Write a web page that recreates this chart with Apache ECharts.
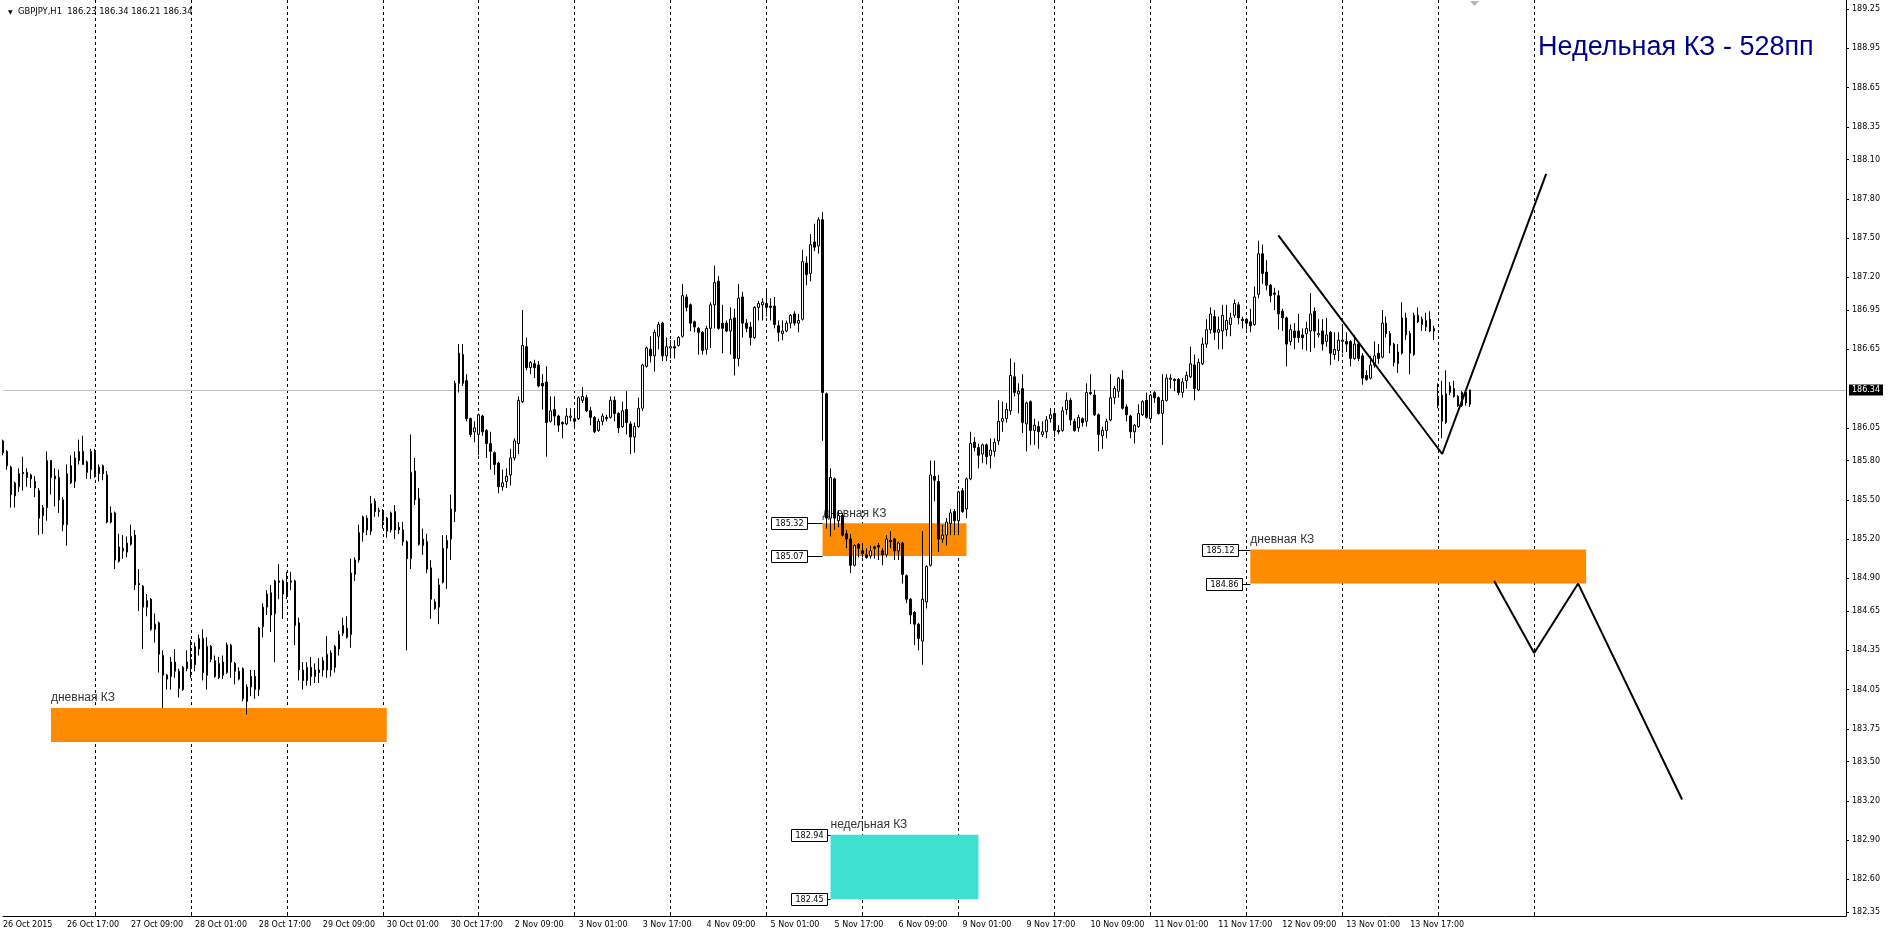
<!DOCTYPE html>
<html>
<head>
<meta charset="utf-8">
<title>GBPJPY,H1</title>
<script src="https://cdn.jsdelivr.net/npm/echarts@6/dist/echarts.min.js"></script>
<style>
html, body { margin: 0; padding: 0; background: #fff; }
#chart { width: 1888px; height: 935px; }
</style>
</head>
<body>
<div id="chart"></div>
<script>
// trading days of the H1 chart, the last ones are the empty space on the right (chart shift)
var days = ['26 Oct', '27 Oct', '28 Oct', '29 Oct', '30 Oct', '2 Nov', '3 Nov', '4 Nov', '5 Nov', '6 Nov',
    '9 Nov', '10 Nov', '11 Nov', '12 Nov', '13 Nov', '16 Nov', '17 Nov', '18 Nov', '19 Nov', '20 Nov'];
var firstLabel = '26 Oct 2015';
var header = 'GBPJPY,H1  186.23 186.34 186.21 186.34';
var title = 'Недельная КЗ - 528пп';
var lastPrice = 186.34;
var priceTicks = [189.25, 188.95, 188.65, 188.35, 188.10, 187.80, 187.50, 187.20, 186.95, 186.65, 186.05, 185.80,
    185.50, 185.20, 184.90, 184.65, 184.35, 184.05, 183.75, 183.50, 183.20, 182.90, 182.60, 182.35];

// hourly bars [open, close, low, high], first one is 26 Oct 01:00
var oct26 = [[185.95,185.86,185.84,185.96],[185.87,185.76,185.73,185.88],[185.75,185.54,185.44,185.76],[185.53,185.63,185.44,185.64],
    [185.6,185.7,185.56,185.74],[185.71,185.7,185.57,185.83],[185.71,185.67,185.6,185.74],[185.69,185.66,185.59,185.7],
    [185.64,185.59,185.52,185.68],[185.57,185.36,185.23,185.59],[185.38,185.44,185.24,185.46],[185.44,185.8,185.34,185.87],
    [185.8,185.67,185.54,185.8],[185.68,185.66,185.45,185.74],[185.67,185.5,185.4,185.73],[185.5,185.31,185.26,185.52],
    [185.31,185.7,185.15,185.77],[185.76,185.63,185.62,185.84],[185.64,185.82,185.59,185.87],[185.8,185.87,185.77,185.96],
    [185.87,185.77,185.77,185.99],[185.79,185.71,185.66,185.8],[185.73,185.87,185.66,185.89]];
var oct27 = [[185.87,185.69,185.67,185.89],[185.7,185.75,185.64,185.77],[185.76,185.7,185.65,185.77],[185.69,185.33,185.32,185.72],
    [185.33,185.4,185.32,185.45],[185.4,185.04,184.97,185.41],[185.03,185.14,185.02,185.24],[185.13,185.11,185.05,185.23],
    [185.1,185.17,185.06,185.22],[185.16,185.22,185.15,185.31],[185.23,184.85,184.81,185.27],[184.86,184.85,184.65,184.97],
    [184.84,184.68,184.36,184.85],[184.68,184.73,184.61,184.78],[184.74,184.51,184.5,184.75],[184.51,184.55,184.41,184.63],
    [184.56,184.32,184.18,184.57],[184.31,184.16,183.91,184.35],[184.16,184.13,184.05,184.17],[184.15,184.26,184.05,184.3],
    [184.26,184.19,184.14,184.36],[184.19,184.06,183.99,184.21],[184.05,184.22,184.04,184.23],[184.21,184.26,184.19,184.35]];
var oct28 = [[184.28,184.22,184.14,184.43],[184.24,184.38,184.19,184.41],[184.36,184.44,184.31,184.47],[184.44,184.18,184.12,184.51],
    [184.38,184.16,184.05,184.45],[184.38,184.28,184.26,184.39],[184.27,184.15,184.14,184.31],[184.14,184.25,184.13,184.3],
    [184.26,184.16,184.13,184.31],[184.18,184.39,184.17,184.41],[184.39,184.26,184.14,184.4],[184.25,184.19,184.09,184.26],
    [184.13,184.19,184.12,184.22],[184.21,183.98,183.96,184.22],[183.96,184.07,183.86,184.09],[184.07,184.15,184.0,184.2],
    [184.15,184.05,183.98,184.2],[184.05,184.52,184.0,184.53],[184.53,184.68,184.45,184.71],[184.68,184.78,184.62,184.81],
    [184.79,184.62,184.49,184.85],[184.63,184.88,184.26,184.89],[184.88,184.87,184.74,185.01],[184.88,184.78,184.59,184.89]];
var oct29 = [[184.78,184.85,184.74,184.95],[184.87,184.88,184.81,184.95],[184.88,184.54,184.39,184.89],[184.56,184.2,184.12,184.6],
    [184.2,184.12,184.05,184.26],[184.12,184.22,184.08,184.26],[184.22,184.15,184.08,184.3],[184.15,184.2,184.1,184.25],
    [184.2,184.18,184.1,184.29],[184.2,184.27,184.15,184.3],[184.2,184.32,184.14,184.46],[184.33,184.2,184.15,184.35],
    [184.22,184.38,184.18,184.39],[184.36,184.47,184.31,184.5],[184.48,184.54,184.46,184.6],[184.52,184.45,184.44,184.61],
    [184.47,184.94,184.37,185.05],[184.93,185.04,184.88,185.06],[185.04,185.25,185.02,185.31],[185.25,185.37,185.18,185.38],
    [185.36,185.27,185.23,185.38],[185.26,185.47,185.23,185.53],[185.49,185.41,185.37,185.51],[185.41,185.42,185.37,185.44]];
var oct30 = [[185.41,185.34,185.28,185.43],[185.36,185.26,185.21,185.37],[185.27,185.4,185.25,185.41],[185.41,185.27,185.2,185.46],
    [185.29,185.27,185.24,185.33],[185.27,185.18,185.15,185.33],[185.18,185.05,184.35,185.19],[185.05,185.71,184.97,186.0],
    [185.72,185.5,185.46,185.82],[185.51,185.16,185.15,185.59],[185.15,185.2,185.08,185.28],[185.18,184.97,184.94,185.24],
    [184.98,184.74,184.59,185.04],[184.72,184.67,184.66,184.74],[184.68,184.85,184.55,184.9],[184.87,185.13,184.86,185.23],
    [185.13,185.19,184.82,185.23],[185.2,185.43,185.04,185.54],[185.41,186.39,185.33,186.41],[186.39,186.62,186.32,186.69],
    [186.61,186.39,186.37,186.69],[186.41,186.12,186.1,186.46],[186.12,186.0,185.98,186.13],[186.02,186.05,185.94,186.1]];
var nov2 = [[186.0,186.15,185.84,186.16],[186.14,186.02,185.99,186.15],[186.03,185.93,185.82,186.04],[185.93,185.87,185.73,186.02],
    [185.86,185.77,185.69,185.87],[185.78,185.6,185.55,185.79],[185.6,185.63,185.57,185.73],[185.64,185.68,185.59,185.74],
    [185.69,185.82,185.61,185.89],[185.82,185.95,185.8,185.97],[185.93,186.26,185.85,186.29],[186.25,186.68,186.24,186.95],
    [186.67,186.51,186.49,186.74],[186.51,186.55,186.46,186.56],[186.54,186.51,186.43,186.57],[186.53,186.37,186.36,186.56],
    [186.39,186.37,186.19,186.46],[186.4,186.09,185.83,186.52],[186.1,186.18,186.09,186.29],[186.19,186.14,186.07,186.29],
    [186.14,186.07,186.02,186.15],[186.09,186.08,185.97,186.1],[186.08,186.14,186.07,186.2],[186.13,186.14,186.1,186.2]];
var nov3 = [[186.12,186.1,186.05,186.2],[186.12,186.28,186.11,186.29],[186.26,186.29,186.24,186.36],[186.28,186.18,186.17,186.3],
    [186.18,186.13,186.07,186.21],[186.13,186.02,186.01,186.14],[186.03,186.1,186.02,186.12],[186.1,186.14,186.07,186.16],
    [186.13,186.12,186.1,186.15],[186.13,186.26,186.12,186.29],[186.26,186.16,186.1,186.29],[186.16,186.05,186.01,186.17],
    [186.06,186.18,186.05,186.25],[186.19,186.09,186.0,186.33],[186.08,185.98,185.85,186.1],[185.98,186.06,185.86,186.09],
    [186.06,186.2,186.05,186.28],[186.2,186.53,186.18,186.54],[186.52,186.66,186.51,186.67],[186.65,186.6,186.55,186.75],
    [186.6,186.78,186.48,186.8],[186.75,186.84,186.65,186.86],[186.85,186.6,186.56,186.86],[186.6,186.67,186.56,186.74]];
var nov4 = [[186.66,186.67,186.58,186.72],[186.67,186.66,186.58,186.72],[186.68,186.74,186.67,186.75],[186.75,187.06,186.74,187.15],
    [187.05,186.97,186.94,187.07],[186.99,186.85,186.79,187.0],[186.86,186.82,186.78,186.87],[186.81,186.78,186.61,186.82],
    [186.78,186.64,186.61,186.79],[186.65,186.81,186.61,186.83],[186.81,186.99,186.66,187.01],[186.99,187.16,186.81,187.29],
    [187.17,186.81,186.8,187.21],[186.85,186.81,186.62,186.99],[186.85,186.79,186.78,186.87],[186.79,186.88,186.61,186.97],
    [186.89,186.58,186.45,186.96],[186.58,187.04,186.52,187.15],[187.05,186.85,186.74,187.09],[186.85,186.81,186.78,186.88],
    [186.82,186.74,186.68,186.86],[186.74,186.97,186.73,186.98],[186.97,187.0,186.87,187.02],[186.99,187.01,186.87,187.04]];
var nov5 = [[187.0,186.97,186.9,187.1],[186.98,186.97,186.87,187.04],[186.98,186.84,186.81,187.05],[186.83,186.78,186.71,186.87],
    [186.77,186.79,186.72,186.87],[186.79,186.85,186.78,186.87],[186.85,186.91,186.81,186.92],[186.92,186.85,186.83,186.94],
    [186.85,186.87,186.78,186.92],[186.88,187.32,186.87,187.41],[187.31,187.22,187.14,187.36],[187.23,187.45,187.17,187.53],
    [187.47,187.43,187.4,187.61],[187.44,187.64,187.38,187.66],[187.64,186.32,185.95,187.7],[186.31,185.36,185.28,186.32],
    [185.36,185.67,185.22,185.74],[185.66,185.36,185.27,185.67],[185.34,185.38,185.29,185.42],[185.38,185.23,185.22,185.4],
    [185.24,185.2,185.13,185.27],[185.2,185.0,184.94,185.24],[185.0,185.15,184.99,185.16],[185.16,185.13,185.06,185.17]];
var nov6 = [[185.11,185.09,185.06,185.17],[185.08,185.06,185.05,185.13],[185.07,185.11,185.05,185.15],[185.14,185.13,185.05,185.15],
    [185.15,185.14,185.04,185.17],[185.11,185.08,185.0,185.13],[185.08,185.2,185.06,185.23],[185.19,185.18,185.13,185.26],
    [185.2,185.11,185.04,185.21],[185.11,185.17,185.04,185.18],[185.17,184.93,184.86,185.18],[184.92,184.74,184.71,184.93],
    [184.74,184.62,184.55,184.75],[184.64,184.55,184.39,184.65],[184.55,184.44,184.35,184.56],[184.42,184.74,184.24,185.26],
    [184.72,184.99,184.67,185.0],[185.0,185.69,184.99,185.8],[185.68,185.65,185.49,185.8],[185.64,185.2,185.1,185.69],
    [185.2,185.23,185.17,185.31],[185.23,185.33,185.15,185.36],[185.32,185.4,185.23,185.43],[185.41,185.34,185.23,185.43]];
var nov9 = [[185.34,185.56,185.23,185.57],[185.57,185.41,185.4,185.59],[185.43,185.66,185.36,185.67],[185.66,185.93,185.65,186.02],
    [185.94,185.9,185.87,185.98],[185.9,185.84,185.74,185.93],[185.85,185.92,185.78,185.93],[185.92,185.83,185.77,185.93],
    [185.84,185.88,185.74,185.97],[185.87,185.94,185.83,185.97],[185.95,186.1,185.92,186.26],[186.1,186.12,186.02,186.25],
    [186.12,186.19,186.09,186.24],[186.18,186.45,186.15,186.58],[186.44,186.32,186.29,186.55],[186.31,186.33,186.16,186.39],
    [186.35,186.09,186.01,186.46],[186.08,186.24,185.87,186.25],[186.25,186.03,185.92,186.26],[186.03,186.07,185.92,186.12],
    [186.06,186.02,185.89,186.1],[186.0,186.02,185.98,186.1],[186.02,186.11,185.97,186.14],[186.12,186.15,186.09,186.2]];
var nov10 = [[186.16,186.03,185.98,186.18],[186.03,186.02,186.0,186.07],[186.03,186.18,186.02,186.21],[186.19,186.26,186.15,186.32],
    [186.26,186.11,186.07,186.28],[186.1,186.03,186.02,186.12],[186.05,186.13,186.02,186.15],[186.12,186.09,186.06,186.13],
    [186.1,186.32,186.06,186.39],[186.32,186.31,186.3,186.46],[186.3,186.15,186.14,186.34],[186.15,186.0,185.87,186.16],
    [185.99,186.03,185.89,186.06],[186.03,186.1,185.97,186.12],[186.11,186.28,186.1,186.46],[186.28,186.35,186.23,186.37],
    [186.33,186.43,186.28,186.44],[186.42,186.2,186.19,186.49],[186.21,186.15,186.1,186.23],[186.14,186.02,185.97,186.15],
    [186.02,186.07,185.93,186.08],[186.06,186.16,186.05,186.23],[186.15,186.25,186.14,186.26],[186.26,186.13,186.12,186.32]];
var nov11 = [[186.12,186.3,186.11,186.31],[186.32,186.28,186.24,186.33],[186.28,186.16,186.15,186.29],[186.16,186.26,185.92,186.46],
    [186.26,186.43,186.25,186.46],[186.42,186.43,186.35,186.46],[186.42,186.41,186.33,186.43],[186.42,186.32,186.3,186.43],
    [186.32,186.4,186.28,186.43],[186.41,186.45,186.35,186.48],[186.44,186.54,186.43,186.67],[186.53,186.35,186.26,186.61],
    [186.34,186.55,186.33,186.58],[186.54,186.69,186.53,186.74],[186.69,186.8,186.66,186.88],[186.8,186.92,186.77,186.97],
    [186.9,186.78,186.72,186.95],[186.78,186.8,186.65,186.9],[186.79,186.91,186.65,186.99],[186.8,186.87,186.75,186.99],
    [186.84,186.89,186.75,186.93],[186.91,187.0,186.89,187.03],[186.99,186.89,186.84,187.01],[186.88,186.87,186.81,186.9]];
var nov12 = [[186.88,186.85,186.8,186.89],[186.86,186.83,186.78,186.96],[186.84,187.05,186.83,187.13],[187.07,187.38,187.04,187.48],
    [187.38,187.23,187.15,187.45],[187.24,187.14,187.1,187.33],[187.14,187.06,187.01,187.15],[187.08,187.07,186.95,187.12],
    [187.06,186.92,186.8,187.1],[186.94,186.89,186.79,186.96],[186.89,186.69,186.52,186.9],[186.71,186.8,186.68,186.84],
    [186.79,186.74,186.65,186.85],[186.79,186.74,186.7,186.92],[186.76,186.74,186.65,186.81],[186.77,186.81,186.64,186.86],
    [186.79,186.92,186.63,187.08],[186.94,186.79,186.66,186.97],[186.76,186.77,186.74,186.88],[186.79,186.69,186.64,186.88],
    [186.71,186.76,186.67,186.89],[186.78,186.62,186.53,186.79],[186.61,186.65,186.57,186.78],[186.64,186.72,186.56,186.78]];
var nov13 = [[186.71,186.72,186.62,186.83],[186.71,186.69,186.63,186.78],[186.71,186.58,186.52,186.72],[186.58,186.69,186.57,186.76],
    [186.69,186.58,186.56,186.7],[186.6,186.43,186.38,186.62],[186.45,186.42,186.41,186.49],[186.43,186.53,186.42,186.6],
    [186.53,186.6,186.51,186.71],[186.62,186.58,186.54,186.69],[186.59,186.85,186.58,186.95],[186.85,186.77,186.74,186.9],
    [186.77,186.68,186.62,186.79],[186.69,186.55,186.52,186.7],[186.54,186.63,186.47,186.69],[186.62,186.89,186.61,187.01],
    [186.89,186.76,186.72,186.93],[186.77,186.62,186.46,186.79],[186.61,186.91,186.6,186.93],[186.91,186.86,186.85,186.97],
    [186.84,186.88,186.79,186.9],[186.82,186.87,186.79,186.93],[186.88,186.79,186.78,186.94],[186.79,186.81,186.72,186.83]];
var nov16 = [[186.22,186.29,186.2,186.39],[186.3,186.1,185.97,186.41],[186.09,186.31,186.08,186.49],[186.32,186.37,186.3,186.4],
    [186.35,186.29,186.28,186.41],[186.29,186.22,186.21,186.3],[186.22,186.32,186.21,186.33],[186.32,186.24,186.22,186.33],
    [186.23,186.34,186.21,186.34]];

// drawn objects
var zones = [
    {name: 'дневная КЗ', from: '26 Oct 13:00', to: '30 Oct 01:00', top: 183.91, bottom: 183.65, color: '#ff8c00'},
    {name: 'дневная КЗ', from: '5 Nov 14:00', to: '9 Nov 02:00', top: 185.32, bottom: 185.07, color: '#ff8c00'},
    {name: 'дневная КЗ', from: '12 Nov 01:00', to: '17 Nov 13:00', top: 185.12, bottom: 184.86, color: '#ff8c00'},
    {name: 'недельная КЗ', from: '5 Nov 16:00', to: '9 Nov 05:00', top: 182.94, bottom: 182.45, color: '#40e0d0'}
];
// [box end time, price, line end time]
var priceLabels = [
    ['5 Nov 10:00', 185.32, '5 Nov 14:00'], ['5 Nov 10:00', 185.07, '5 Nov 14:00'],
    ['11 Nov 22:00', 185.12, '12 Nov 01:00'], ['11 Nov 23:00', 184.86, '12 Nov 01:00'],
    ['5 Nov 15:00', 182.94, '5 Nov 16:00'], ['5 Nov 15:00', 182.45, '5 Nov 16:00']
];
var trendUp = [['12 Nov 08:00', 187.52], ['16 Nov 01:00', 185.85], ['17 Nov 03:00', 187.99]];
var trendDown = [['16 Nov 14:00', 184.88], ['17 Nov 00:00', 184.33], ['17 Nov 11:00', 184.86], ['18 Nov 13:00', 183.21]];

var times = [];
days.forEach(function (d) {
    for (var h = 0; h < 24; h++) times.push(d + ' ' + (h < 10 ? '0' + h : h) + ':00');
});
times = times.slice(1, 463);
var candles = [].concat(oct26, oct27, oct28, oct29, oct30, nov2, nov3, nov4, nov5, nov6,
    nov9, nov10, nov11, nov12, nov13, nov16);

var axisFont = {fontFamily: 'DejaVu Sans', fontSize: 8, color: '#000'};

var chart = echarts.init(document.getElementById('chart'));
chart.setOption({
    animation: false,
    backgroundColor: '#fff',
    title: [{
        text: title, left: 1533, top: 29,
        textStyle: {color: '#00008b', fontSize: 27, fontWeight: 'normal', fontFamily: 'Liberation Sans'}
    }, {
        text: '{t|▼}  ' + header, left: 3, top: 3,
        textStyle: {color: '#000', fontSize: 8.4, fontWeight: 'normal', fontFamily: 'DejaVu Sans',
            rich: {t: {fontSize: 6, fontFamily: 'DejaVu Sans', color: '#000'}}}
    }],
    // chart shift marker
    graphic: [{
        type: 'polygon', silent: true,
        shape: {points: [[1470, 1], [1479, 1], [1474.5, 6]]},
        style: {fill: '#b4b4b4'}
    }],
    grid: {left: 1, right: 42, top: 0, bottom: 19},
    xAxis: {
        type: 'category',
        data: times,
        boundaryGap: false,
        axisLine: {onZero: false, lineStyle: {color: '#000', width: 1}},
        axisTick: {
            inside: true, length: 4, lineStyle: {color: '#000'},
            interval: function (i) { return (i + 1) % 24 === 0 && i < 384; }
        },
        axisLabel: Object.assign({
            align: 'left', margin: 5,
            interval: function (i) { return i === 0 || (i % 16 === 0 && i < candles.length); },
            formatter: function (v, i) { return i === 0 ? firstLabel : v; }
        }, axisFont),
        splitLine: {
            show: true,
            interval: function (i) { return (i + 1) % 24 === 0 && i < 384; },
            lineStyle: {color: '#000', width: 1, type: [3, 3]}
        }
    },
    yAxis: {
        type: 'value',
        position: 'right',
        min: 182.32,
        max: 189.319,
        axisLine: {show: true, lineStyle: {color: '#000', width: 1}},
        axisTick: {show: true, length: 3, customValues: priceTicks, lineStyle: {color: '#000'}},
        axisLabel: Object.assign({
            margin: 6, customValues: priceTicks,
            formatter: function (v) { return v.toFixed(2); }
        }, axisFont),
        splitLine: {show: false}
    },
    series: [{
        type: 'candlestick',
        data: candles,
        barWidth: 2,
        clip: false,
        itemStyle: {color: '#fff', color0: '#000', borderColor: '#000', borderColor0: '#000', borderWidth: 1},
        markLine: {
            silent: true,
            z: 1,
            symbol: ['none', 'none'],
            data: [{yAxis: lastPrice}],
            lineStyle: {color: '#c0c0c0', width: 1, type: 'solid'},
            label: {
                show: true, position: 'end', distance: 3,
                formatter: lastPrice.toFixed(2),
                color: '#fff', backgroundColor: '#000', padding: [2, 3, 1, 3],
                fontFamily: 'DejaVu Sans', fontSize: 8
            }
        },
        markArea: {
            silent: true,
            data: zones.map(function (z) {
                return [{
                    name: z.name, xAxis: z.from, yAxis: z.top,
                    itemStyle: {color: z.color, opacity: 1},
                    label: {show: true, position: [0, -16], color: '#333', fontSize: 12, fontFamily: 'Liberation Sans'}
                }, {xAxis: z.to, yAxis: z.bottom}];
            })
        }
    }, {
        type: 'line',
        data: trendUp,
        showSymbol: false,
        silent: true,
        lineStyle: {color: '#000', width: 2}
    }, {
        type: 'line',
        data: trendDown,
        showSymbol: false,
        silent: true,
        lineStyle: {color: '#000', width: 2}
    }, {
        type: 'custom',
        silent: true,
        data: priceLabels.map(function (l) { return [times.indexOf(l[0]), l[1], times.indexOf(l[2])]; }),
        renderItem: function (params, api) {
            var p = api.coord([api.value(0), api.value(1)]);
            var e = api.coord([api.value(2), api.value(1)]);
            var x = Math.round(p[0]) + 0.5, y = Math.round(p[1]) + 0.5;
            var w = 36, h = 12;
            return {
                type: 'group',
                children: [
                    {type: 'line', shape: {x1: x, y1: y, x2: e[0], y2: y}, style: {stroke: '#000', lineWidth: 1}},
                    {type: 'rect', shape: {x: x - w, y: y - h / 2, width: w, height: h},
                        style: {fill: '#fff', stroke: '#000', lineWidth: 1}},
                    {type: 'text', style: {text: api.value(1).toFixed(2), x: x - w / 2, y: y + 0.5,
                        align: 'center', verticalAlign: 'middle', font: '8px "DejaVu Sans"', fill: '#000'}}
                ]
            };
        }
    }]
});
</script>
</body>
</html>
